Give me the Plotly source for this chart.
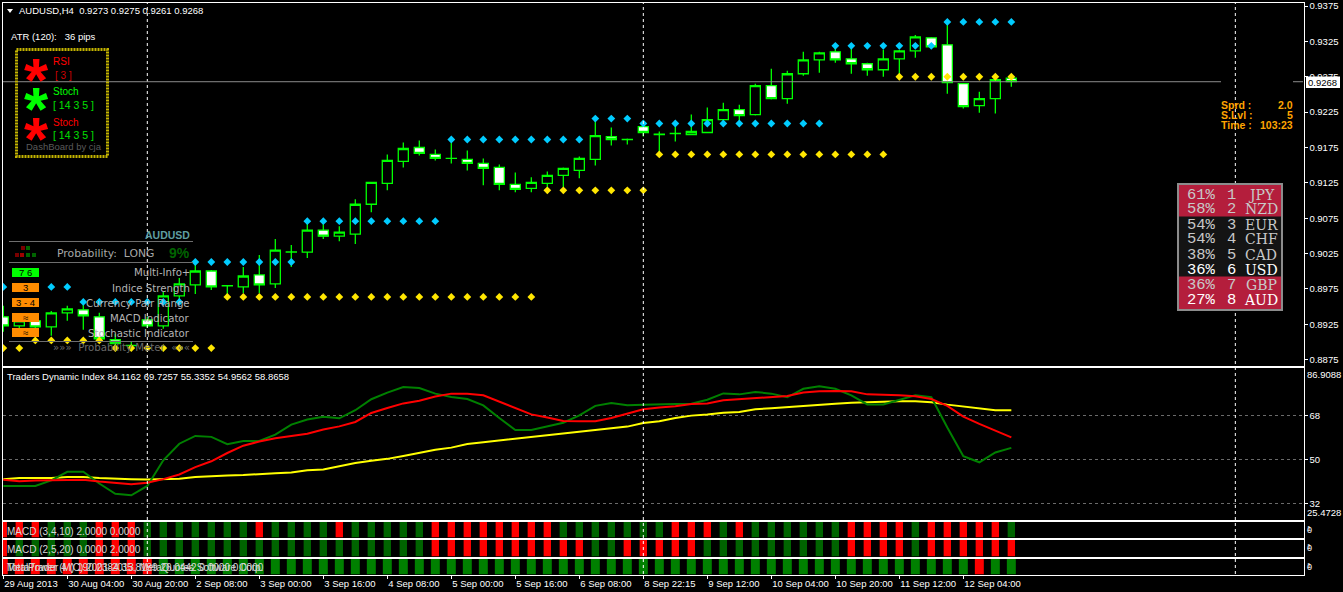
import plotly.graph_objects as go

W, H = 1343, 592

# ---------- data ----------
bars = list(range(64))
tick_bars = [0, 4, 8, 12, 16, 20, 24, 28, 32, 36, 40, 44, 48, 52, 56, 60]
tick_labels = ["29 Aug 2013", "30 Aug 04:00", "30 Aug 20:00", "2 Sep 08:00", "3 Sep 00:00", "3 Sep 16:00",
               "4 Sep 08:00", "5 Sep 00:00", "5 Sep 16:00", "6 Sep 08:00", "8 Sep 22:15", "9 Sep 12:00",
               "10 Sep 04:00", "10 Sep 20:00", "11 Sep 12:00", "12 Sep 04:00"]

opens = [.89356, .89229, .89300, .89215, .89412, .89455, .89356, .89032, .88948, .89314, .89229, .89652, .89807, .90004, .89793, .89779,
         .89948, .89821, .90271, .90271, .90581, .90497, .90525, .90948, .91243, .91553, .91750, .91652, .91595, .91581, .91525, .91469,
         .91229, .91173, .91243, .91356, .91426, .91581, .91905, .91863, .92046, .91934, .91948, .91934, .91962, .92145, .92286, .92215,
         .92624, .92441, .92793, .92990, .93103, .93004, .92934, .92849, .93004, .93117, .93300, .93201, .92652, .92342, .92441, .9273]
highs = [.89511, .89328, .89342, .89440, .89511, .89525, .89412, .89117, .89004, .89356, .89708, .89905, .90131, .90018, .89800, .90060,
         .90229, .90455, .90370, .90722, .90666, .90638, .91018, .91260, .91652, .91821, .91849, .91722, .91821, .91708, .91595, .91511,
         .91398, .91328, .91412, .91469, .91624, .92145, .92032, .91877, .92131, .91976, .92046, .92215, .92314, .92384, .92356, .92652,
         .92863, .92835, .93103, .93103, .93173, .93145, .92948, .93131, .93131, .93342, .93314, .93525, .92652, .92539, .92736, .9275]
lows = [.89145, .89187, .89117, .89088, .89300, .89173, .88990, .88905, .88877, .89201, .89187, .89567, .89680, .89736, .89638, .89694,
        .89694, .89764, .90060, .90187, .90455, .90426, .90384, .90835, .91145, .91469, .91638, .91567, .91525, .91426, .91215, .91145,
        .91117, .91117, .91159, .91187, .91314, .91497, .91779, .91793, .91905, .91652, .91835, .91934, .91962, .92103, .92131, .92201,
        .92427, .92370, .92765, .92807, .92948, .92793, .92765, .92750, .92750, .93018, .93173, .92511, .92300, .92243, .92229, .9261]
closes = [.89229, .89300, .89215, .89412, .89469, .89370, .89046, .88976, .88953, .89229, .89652, .89821, .90004, .89779, .89797, .89933,
          .89807, .90300, .90275, .90581, .90497, .90553, .90948, .91257, .91567, .91736, .91666, .91595, .91597, .91525, .91455, .91229,
          .91159, .91257, .91356, .91455, .91595, .91919, .91863, .91866, .91962, .91937, .91951, .91976, .92145, .92286, .92201, .92624,
          .92441, .92793, .92990, .93089, .92990, .92934, .92849, .93004, .93117, .93314, .93173, .92666, .92328, .92441, .92708, .9268]

cyan_levels = [.89779]*5 + [.89567]*7 + [.90131]*7 + [.90708]*9 + [.91863]*9 + [.92159]*3 + [.92089]*12 + [.93187]*7 + [.93525]*5
gold_levels = [.88915]*2 + [.89022]*5 + [.88915]*7 + [.89638]*20 + [.91145]*7 + [.91652]*15 + [.92750]*8

tdi_green = [39.2, 39.2, 39.2, 41.5, 45.0, 45.0, 40.2, 36.0, 35.4, 39.2, 49.7, 56.5, 59.7, 59.3, 56.3, 57.6,
             57.6, 60.2, 64.3, 66.4, 67.5, 66.9, 70.2, 74.7, 77.4, 79.7, 79.3, 77.0, 75.6, 74.8, 72.2, 67.0,
             62.1, 62.1, 63.5, 65.1, 68.1, 72.0, 73.2, 72.2, 72.5, 72.8, 72.8, 72.9, 74.5, 77.1, 76.7, 77.7,
             77.0, 75.5, 79.0, 80.0, 79.0, 76.3, 72.6, 72.6, 74.5, 76.3, 75.5, 63.1, 51.4, 48.9, 52.9, 54.8]
tdi_red = [41.7, 41.1, 41.4, 41.5, 41.8, 41.7, 41.0, 40.3, 39.9, 40.5, 42.0, 43.9, 46.9, 49.3, 52.7, 55.7,
           57.4, 58.7, 59.5, 60.6, 62.3, 63.6, 65.4, 69.1, 71.1, 73.0, 74.1, 75.8, 77.0, 77.0, 76.3, 73.6,
           71.1, 68.5, 67.2, 65.8, 65.7, 65.7, 67.0, 68.7, 70.6, 71.3, 71.8, 72.8, 73.0, 74.3, 74.7, 75.4,
           75.8, 76.0, 77.5, 78.0, 78.1, 78.0, 76.7, 76.6, 76.3, 75.9, 74.8, 72.0, 67.6, 64.6, 61.7, 59.1]
tdi_yellow = [42.0, 42.5, 42.5, 42.5, 42.9, 42.9, 42.5, 42.4, 42.0, 41.8, 42.0, 42.2, 42.9, 43.3, 43.5, 43.7,
              43.9, 44.4, 44.7, 45.6, 45.9, 47.3, 48.6, 49.5, 50.3, 51.5, 52.9, 54.0, 54.9, 56.4, 57.1, 57.8,
              58.3, 59.1, 59.8, 60.6, 61.2, 61.9, 62.7, 63.5, 65.0, 65.7, 67.0, 68.0, 68.5, 69.2, 69.5, 70.6,
              71.0, 71.5, 72.2, 72.5, 72.9, 73.3, 73.6, 73.7, 73.9, 73.9, 73.5, 72.5, 71.7, 70.7, 70.2, 70.2]

macd_a = list("rrrgggrrr" "ggggggg" "r" "gggg" "r" "ggggg" "rrrrrrrr" "ggggggg" "rrr" "g" "r" "gggggg" "rrrr" "g" "rrrrr" "g")
macd_b = list("r" "ggggg" "rrr" + "g"*18 + "r"*10 + "gg" + "r"*5 + "g"*9 + "rrrr" "g" + "r"*6)
macd_c = list("r"*10 + "g"*51 + "r" "gg")

rank_pct = ["61%", "58%", "54%", "54%", "38%", "36%", "36%", "27%"]
rank_no = ["1", "2", "3", "4", "5", "6", "7", "8"]
rank_cur = ["JPY", "NZD", "EUR", "CHF", "CAD", "USD", "GBP", "AUD"]

last_price = closes[-1]
separators = [9, 40, 77]

# ---------- helpers ----------
UI = "Liberation Sans"
WIDE = "DejaVu Sans"
def fx(x): return x / W
def fy(y): return 1 - y / H

annotations, shapes = [], []
def text(t, x, y, color="#ffffff", size=9.5, anchor="left", font=UI, bold=False):
    if bold:
        t = "<b>" + t + "</b>"
    annotations.append(dict(text=t, x=fx(x), y=fy(y), xref="paper", yref="paper", showarrow=False,
                            xanchor=anchor, yanchor="middle", borderpad=0, borderwidth=0,
                            font=dict(family=font, size=size, color=color)))
def rect(x0, y0, x1, y1, fill=None, line=None, lw=0, dash=None):
    shapes.append(dict(type="rect", xref="paper", yref="paper", x0=fx(x0), x1=fx(x1), y0=fy(y0), y1=fy(y1),
                       fillcolor=fill or "rgba(0,0,0,0)",
                       line=dict(color=line or "rgba(0,0,0,0)", width=lw, dash=dash or "solid")))
def hline(x0, x1, y, color="#6e6e6e", lw=1):
    shapes.append(dict(type="line", xref="paper", yref="paper", x0=fx(x0), x1=fx(x1), y0=fy(y), y1=fy(y),
                       line=dict(color=color, width=lw)))

fig = go.Figure()
fig.add_trace(go.Candlestick(x=bars, open=opens, high=highs, low=lows, close=closes, xaxis="x", yaxis="y",
                             whiskerwidth=0, hoverinfo="skip", showlegend=False,
                             increasing=dict(line=dict(color="#00ff00", width=1.3), fillcolor="#000000"),
                             decreasing=dict(line=dict(color="#00ff00", width=1.3), fillcolor="#ffffff")))
fig.add_trace(go.Scatter(x=bars, y=cyan_levels, mode="markers", xaxis="x", yaxis="y", hoverinfo="skip",
                         marker=dict(symbol="diamond", size=6, color="#00ccff", line=dict(width=0))))
fig.add_trace(go.Scatter(x=bars, y=gold_levels, mode="markers", xaxis="x", yaxis="y", hoverinfo="skip",
                         marker=dict(symbol="diamond", size=6, color="#ffe600", line=dict(width=0))))

for series, col in ((tdi_yellow, "#ffff00"), (tdi_green, "#008000"), (tdi_red, "#ff0000")):
    fig.add_trace(go.Scatter(x=bars, y=series, mode="lines", xaxis="x2", yaxis="y2", hoverinfo="skip",
                             line=dict(color=col, width=2)))

for flags, ax, green, width in ((macd_a, "3", "#006400", 0.46), (macd_b, "4", "#006400", 0.46), (macd_c, "5", "#008000", 0.56)):
    fig.add_trace(go.Bar(x=bars, y=[1]*len(flags), xaxis="x"+ax, yaxis="y"+ax, width=width, hoverinfo="skip",
                         marker=dict(color=["#ff0000" if f == "r" else green for f in flags], line=dict(width=0))))

# ---------- axes ----------
XD = [fx(2.5), fx(1303.5)]
XR = [-0.05, 81.26]
panels = [(2.5, 365.5), (367.5, 519.5), (521.5, 537.5), (539.5, 556.5), (558.5, 574.5)]
layout = {}
AXF = dict(family=UI, size=9.5, color="#ffffff")
for n in range(1, 6):
    top, bot = panels[n-1]
    s = "" if n == 1 else str(n)
    layout["xaxis"+s] = dict(domain=XD, range=XR, anchor="y"+s, showgrid=False, zeroline=False, showline=True,
                             mirror=True, linecolor="#ffffff", linewidth=1, showticklabels=False, ticks="",
                             fixedrange=True, rangeslider=dict(visible=False), automargin=False)
    layout["yaxis"+s] = dict(domain=[fy(bot), fy(top)], anchor="x"+s, side="right", showgrid=False, zeroline=False,
                             showline=True, mirror=True, linecolor="#ffffff", linewidth=1, fixedrange=True,
                             showticklabels=False, ticks="", range=[0, 1], automargin=False, tickfont=AXF)
layout["yaxis"].update(range=[.88668, .93800], tick0=.8875, dtick=.005, tickformat=".4f", showticklabels=True,
                       ticks="outside", ticklen=3, tickcolor="#ffffff")
layout["yaxis2"].update(range=[25.4728, 87.7], tickvals=[32, 50, 68], ticktext=["32", "50", "68"], showticklabels=True,
                        ticks="outside", ticklen=3, tickcolor="#ffffff", showgrid=True, gridcolor="#6a6a6a", gridwidth=1,
                        griddash="3px,3px")
layout["xaxis5"].update(tickmode="array", tickvals=tick_bars, ticktext=tick_labels, showticklabels=True, ticks="outside",
                        ticklen=3, tickcolor="#ffffff", ticklabelposition="outside right", tickangle=0, tickfont=AXF)

# ---------- period separators and last price line ----------
for b in separators:
    shapes.append(dict(type="line", xref="x", yref="paper", x0=b, x1=b, y0=fy(574), y1=fy(3),
                       line=dict(color="#ffffff", width=1, dash="3px,3px")))
for x0, x1 in ((3, 1221), (1293, 1303)):
    shapes.append(dict(type="line", xref="paper", yref="y", x0=fx(x0), x1=fx(x1), y0=last_price, y1=last_price,
                       line=dict(color="#8c8c8c", width=1)))

# ---------- header and labels ----------
shapes.append(dict(type="path", xref="paper", yref="paper",
                   path=f"M {fx(7)} {fy(9)} L {fx(13)} {fy(9)} L {fx(10)} {fy(13)} Z", fillcolor="#ffffff", line=dict(width=0)))
text(f"AUDUSD,H4  {opens[-1]:.4f} {highs[-1]:.4f} {lows[-1]:.4f} {closes[-1]:.4f}", 19, 10.5)
text("ATR (120):   36 pips", 11, 36)
text("Traders Dynamic Index 84.1162 69.7257 55.3352 54.9562 58.8658", 7, 376)
text("MACD (3,4,10) 2.0000 0.0000", 7, 531, color="#d8d8d8", size=10)
text("MACD (2,5,20) 0.0000 2.0000", 7, 549, color="#d8d8d8", size=10)
text("TotalPower (M) 190.2384 35.8139 26.0442 0.0000 0.0000", 7, 567, color="#d8d8d8", size=10)
text("MetaTrader 4 (C) 2001-2013, MetaQuotes Software Corp.", 7, 567, color="#d8d8d8", size=10)

# right axis extras
text("86.9088", 1307, 374)
text("25.4728", 1307, 512)
for yy in (530, 548, 567):
    text("0", 1307, yy, size=9)
    text("1", 1307, yy - 2, size=7)
rect(1306, 76.5, 1340, 88, fill="#ffffff")
text(f"{last_price:.4f}", 1308, 82.5, color="#000000")

# dashboard
rect(16.5, 49.5, 107.5, 156.5, line="#c4b400", lw=3, dash="2px,1px")
for yy, col in ((68, "#ff0000"), (98, "#00ff00"), (128, "#ff0000")):
    text("*", 36, yy + 11, color=col, size=62, anchor="center", font="Liberation Sans", bold=True)
text("RSI", 53, 62, color="#ff0000", size=10)
text("[ 3 ]", 55, 75, color="#d00000", size=10)
text("Stoch", 53, 92, color="#00ff00", size=10)
text("[ 14 3 5 ]", 53, 105, color="#00e000", size=10.5)
text("Stoch", 53, 122, color="#ff0000", size=10)
text("[ 14 3 5 ]", 53, 135, color="#00e000", size=10.5)
text("DashBoard by cja", 26, 147, color="#5a5a5a")

# probability panel
text("AUDUSD", 190, 234.5, color="#5f9ea0", anchor="right", size=10.5, bold=True)
hline(9, 193, 241.5)
hline(9, 193, 262.5)
hline(9, 193, 341.5)
for x0, y0, col in ((21, 246, "#7a0000"), (26, 246, "#006400"), (15, 253, "#7a0000"), (20, 253, "#a00000"),
                    (26, 253, "#006400"), (32, 253, "#006400")):
    rect(x0, y0, x0 + 4, y0 + 4, fill=col)
text("Probability:  LONG", 57, 253, color="#a8a8a8", size=10.8, font=WIDE)
text("9%", 190, 253, color="#006400", size=14, anchor="right", bold=True)
for y0, col, label in ((268, "#00ff00", "7 6"), (283, "#ff8c00", "3"), (298, "#ff8c00", "3 - 4"),
                       (313, "#ff8c00", "≈"), (328, "#ff8c00", "≈")):
    rect(12, y0, 39, y0 + 9, fill=col)
    text(label, 25.5, y0 + 4.5, color="#000000", anchor="center")
for yy, label in ((272.5, "Multi-Info+"), (288, "Indice Strength"), (303, "Currency Pair Range"),
                  (318, "MACD Indicator"), (333, "Stochastic Indicator")):
    text(label, 190, yy, color="#b4b4b4", anchor="right", size=10.2, font=WIDE)
text("»»»  Probability Meter  «««", 190, 347, color="#6a6a6a", anchor="right", size=10.2, font=WIDE)

# spread block
for yy, a, b in ((105, "Sprd :", "2.0"), (115, "S.Lvl :", "5"), (125, "Time :", "103:23")):
    text(a, 1221, yy, color="#ffa500", size=10.5, bold=True)
    text(b, 1293, yy, color="#ffa500", size=10.5, anchor="right", bold=True)

# strength table
rect(1178, 184, 1282, 310, fill="#141414", line="#8c8c8c", lw=2)
rect(1179, 185, 1281, 216.5, fill="#b41e3c")
rect(1179, 276.5, 1281, 309, fill="#b41e3c")
for k in range(8):
    col = "#ffffff" if rank_cur[k] in ("USD", "AUD") else "#c8c8c8"
    yy = 194.5 + 15 * k
    text(rank_pct[k], 1201, yy, color=col, size=15.5, anchor="center", font="Liberation Mono")
    text(rank_no[k], 1231, yy, color=col, size=15.5, anchor="center", font="Liberation Mono")
    text(rank_cur[k], 1261, yy, color=col, size=14, anchor="center", font="DejaVu Serif")

fig.update_layout(width=W, height=H, autosize=False, margin=dict(l=0, r=0, t=0, b=0, pad=0), template="none",
                  paper_bgcolor="#000000", plot_bgcolor="#000000", showlegend=False, barmode="overlay",
                  boxgap=0.3, boxgroupgap=0.1, dragmode=False, annotations=annotations, shapes=shapes, **layout)

fig.write_html("out.html", config=dict(displayModeBar=False, staticPlot=True),
               post_script="document.body.style.margin='0';document.body.style.background='#000';document.body.style.overflow='hidden';")
